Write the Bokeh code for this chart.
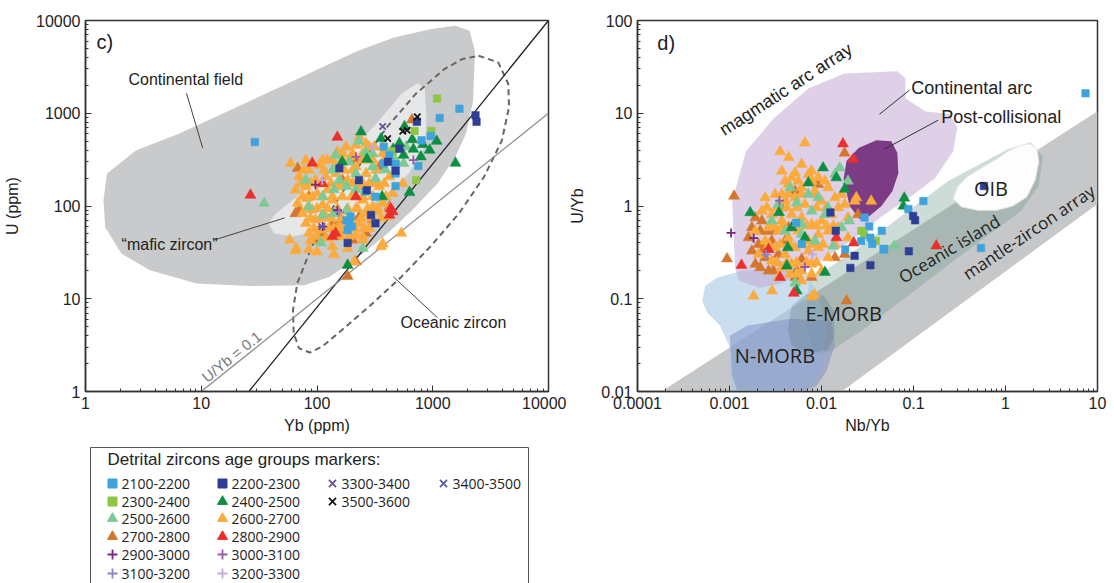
import math
from bokeh.plotting import figure
from bokeh.layouts import row, column
from bokeh.models import Range1d, FixedTicker, CustomJSTickFormatter
from bokeh.core.properties import value
from bokeh.embed import file_html
from bokeh.resources import INLINE

# ---------------------------------------------------------------------------
# Age groups: label, marker, colour
# ---------------------------------------------------------------------------
GROUPS = [
    ("2100-2200", "square", "#3fa2dc"),
    ("2200-2300", "square", "#2d3e94"),
    ("2300-2400", "square", "#8dc641"),
    ("2400-2500", "triangle", "#0d8f43"),
    ("2500-2600", "triangle", "#7dca96"),
    ("2600-2700", "triangle", "#fbab3d"),
    ("2700-2800", "triangle", "#d4772c"),
    ("2800-2900", "triangle", "#eb2f2c"),
    ("2900-3000", "cross", "#7a2682"),
    ("3000-3100", "cross", "#9b5aa8"),
    ("3100-3200", "cross", "#8d86c6"),
    ("3200-3300", "cross", "#c4abd8"),
    ("3300-3400", "x", "#6b4fa2"),
    ("3400-3500", "x", "#5d5ca8"),
    ("3500-3600", "x", "#111111"),
]

# ---------------------------------------------------------------------------
# Panel c) : Yb (ppm) vs U (ppm)
# ---------------------------------------------------------------------------
YB_2100_2200 = [29, 1700, 1148, 800, 960, 750, 477, 378, 423, 378, 262, 320, 477, 195, 190, 200, 180, 184, 477]
U_2100_2200 = [490, 1120, 890, 510, 570, 270, 224, 434, 353, 288, 143, 126, 164, 77, 65, 60, 70, 55, 283]

YB_2200_2300 = [2340, 2390, 730, 410, 477, 293, 320, 270, 184, 156, 230, 515]
U_2200_2300 = [950, 810, 810, 300, 240, 80, 65, 148, 40, 255, 190, 415]

YB_2300_2400 = [1090, 972, 697, 450, 720]
U_2300_2400 = [1440, 645, 645, 390, 190]

YB_2400_2500 = [240, 1570, 630, 184, 570, 665, 790, 1080, 940, 560, 165, 270, 358, 455, 365, 680, 823, 515]
U_2400_2500 = [630, 290, 140, 23, 720, 520, 340, 500, 400, 353, 300, 320, 534, 410, 126, 410, 460, 475]

YB_2500_2600 = [35, 145, 217, 262, 303, 180, 140, 80, 112, 249, 108, 477, 560, 320, 190, 230, 590, 390,
                156, 217, 137, 303, 112, 180, 140, 85]
U_2500_2600 = [107, 353, 224, 380, 265, 163, 150, 190, 80, 35, 40, 310, 288, 198, 300, 500, 434, 245,
               190, 150, 245, 366, 126, 90, 83, 98]

YB_2600_2700 = [70, 85, 104, 123, 150, 178, 217, 265, 313, 196,
                65, 80, 97, 119, 145, 172, 217, 265, 323, 394,
                68, 82, 100, 123, 150, 184, 224, 283, 345, 423,
                75, 91, 112, 136, 166, 203, 248, 303, 369, 451,
                80, 97, 119, 145, 178, 217, 265, 323, 408,
                85, 104, 127, 156, 190, 232, 283,
                88, 119, 161, 217,
                136, 184, 248,
                59, 80, 65, 100, 140, 535, 370, 358, 210, 85,
                58, 66, 283, 369, 232, 551,
                112, 136, 166, 248, 303,
                72, 88, 108, 132, 161, 203, 248, 313, 381,
                75, 91, 112, 136, 203, 248, 303, 394,
                82, 100, 123, 150, 184, 224, 274, 334, 423,
                88, 108, 132, 161, 196, 240, 293, 358,
                94, 115, 140, 172, 210, 257,
                100, 136, 190, 248,
                77, 115, 140, 203,
                166, 203, 248, 369]
U_2600_2700 = [207, 244, 276, 313, 384, 434, 453, 472, 434, 339,
               149, 162, 190, 207, 224, 244, 265, 224, 244, 339,
               107, 121, 137, 149, 162, 190, 162, 175, 162, 207,
               83, 91, 103, 116, 126, 131, 116, 98, 107, 137,
               65, 71, 77, 83, 87, 94, 83, 87, 77,
               51, 55, 57.5, 60, 65, 65, 57.5,
               43, 45, 47, 49,
               36.5, 35, 43,
               288, 310, 33, 32, 30, 51, 39, 36.5, 25, 34,
               43, 35, 434, 434, 556, 175,
               313, 313, 313, 313, 313,
               175, 175, 175, 175, 175, 175, 175, 175, 175,
               126, 126, 126, 126, 126, 126, 126, 126,
               94, 94, 94, 94, 94, 94, 94, 94, 94,
               74, 74, 74, 74, 74, 74, 74, 74,
               57.5, 57.5, 57.5, 57.5, 57.5, 57.5,
               47, 47, 47, 47,
               244, 244, 244, 244,
               368, 368, 368, 368]

YB_2700_2800 = [68, 660, 203, 145, 97, 70, 65, 161, 184, 217, 112, 178, 303, 136, 232, 85, 166, 217, 345, 423, 190, 265]
U_2700_2800 = [255, 850, 43, 47, 43, 91, 83, 71, 17.5, 25, 51, 55, 71, 65, 77, 126, 190, 313, 265, 98, 47, 51]

YB_2800_2900 = [26.6, 91, 150, 432, 423, 451, 145, 136, 217, 112]
U_2800_2900 = [131, 290, 552, 94, 80, 87, 51, 47, 126, 175]

YB_2900_3000 = [97, 112, 150]
U_2900_3000 = [170, 60, 90]
YB_3000_3100 = [680, 217]
U_3000_3100 = [313, 339]
YB_3100_3200 = [156]
U_3100_3200 = [86]
YB_3200_3300 = [111, 303]
U_3200_3300 = [190, 434]
YB_3300_3400 = [369]
U_3300_3400 = [720]
YB_3400_3500 = [110]
U_3400_3500 = [60]
YB_3500_3600 = [735, 551, 600, 408]
U_3500_3600 = [914, 640, 656, 534]

# Fields of panel c)
CONT_FIELD_YB = [1.53, 2.72, 6.4, 13.1, 26.7, 54.5, 111, 227, 464, 948, 1563, 2080, 2314, 2233, 1936,
                 1563, 1094, 663, 402, 227, 128, 78, 26.7, 9.1, 3.6, 2.04, 1.48, 1.43]
CONT_FIELD_U = [223, 397, 600, 906, 1368, 2067, 3124, 4720, 6560, 8070, 8770, 7740, 4720, 1368, 600,
                336, 174, 90, 50, 28, 17.2, 14, 13.7, 14.6, 20.3, 30.7, 59, 115]

MAFIC_YB = [38.1, 44, 78, 159, 325, 535, 738, 851, 883, 851, 618, 402, 227, 111, 62.9, 42.5]
MAFIC_U = [64.6, 82.7, 147, 310, 768, 1614, 2103, 1871, 906, 431, 223, 136, 82.7, 54.8, 47.2, 50.4]

OCEANIC_YB = [2485, 3680, 4495, 4560, 3955, 2767, 1679, 948, 535, 302, 171, 111, 86.7, 70, 62.9, 62,
              67.5, 89.9, 138, 227, 402, 712, 1261, 1803]
OCEANIC_U = [4170, 3535, 2067, 1161, 508, 205, 82.7, 36.2, 17.2, 8.9, 4.8, 3.05, 2.63, 2.92, 4.24, 7.55,
             14.6, 36.2, 97.5, 262, 707, 1614, 2999, 3838]

# Reference lines
STEEP_LINE_YB = [25.8, 10000]
STEEP_LINE_U = [1, 10000]
U_YB_RATIO = 0.1
RATIO_LINE_YB = [10, 10000]

# ---------------------------------------------------------------------------
# Panel d) : Nb/Yb vs U/Yb
# ---------------------------------------------------------------------------
NBYB_2100_2200 = [5.3e-3, 0.0181, 0.0294, 0.033, 0.034, 0.0452, 0.0472, 0.0356, 6.1e-3, 0.128, 0.0879, 0.048,
                  0.542, 7.41, 0.027]
UYB_2100_2200 = [0.66, 0.34, 0.75, 0.60, 0.456, 0.54, 0.34, 0.39, 0.39, 1.13, 0.93, 0.345, 0.353, 16.4, 0.42]

NBYB_2200_2300 = [0.0143, 0.0229, 0.0206, 0.034, 0.089, 0.099, 0.104, 0.583, 0.0125]
UYB_2200_2300 = [0.54, 0.29, 0.215, 0.23, 0.325, 0.78, 0.70, 1.64, 0.85]

NBYB_2300_2400 = [0.0271, 0.0389, 0.029]
UYB_2300_2400 = [0.54, 0.42, 0.49]

NBYB_2400_2500 = [1.68e-3, 0.0104, 0.0145, 7.19e-3, 4.3e-3, 0.0109, 4.2e-3, 5.38e-3, 3.45e-3, 6.61e-3,
                  0.0179, 4.74e-3, 0.0794, 0.0776]
UYB_2400_2500 = [0.85, 2.58, 2.02, 1.78, 0.356, 0.193, 0.226, 0.122, 0.85, 0.456, 1.52, 0.585, 1.22, 1.0]

NBYB_2500_2600 = [0.0158, 5.38e-3, 7.81e-3, 0.0109, 5.16e-3, 0.0134, 6.09e-3, 4.02e-3, 2.88e-3, 9.21e-3,
                  4.55e-3, 0.0165, 0.020, 7.19e-3, 0.0118, 0.0140, 6.09e-3, 0.0194, 3.40e-3, 8.48e-3, 0.0619]
UYB_2500_2600 = [2.58, 1.08, 0.884, 0.81, 0.148, 0.37, 0.635, 0.538, 0.69, 1.23,
                 1.58, 0.585, 0.69, 1.34, 0.96, 2.19, 0.495, 1.86, 1.04, 0.42, 0.372]

NBYB_2600_2700 = [3.70e-3, 5.16e-3, 7.19e-3, 9.21e-3, 4.37e-3, 6.09e-3, 8.48e-3, 0.0118, 3.13e-3, 4.02e-3,
                  5.16e-3, 6.61e-3, 0.0100, 0.0140, 0.0179, 2.25e-3, 2.88e-3, 3.70e-3, 4.74e-3, 6.09e-3,
                  7.81e-3, 0.0100, 0.0128, 2.66e-3, 3.40e-3, 4.37e-3, 5.60e-3, 7.19e-3, 9.21e-3, 0.0118,
                  0.0152, 0.0194, 0.0230, 2.44e-3, 3.13e-3, 4.02e-3, 5.16e-3, 7.19e-3, 9.21e-3, 0.0118,
                  2.88e-3, 3.70e-3, 4.74e-3, 6.09e-3, 7.81e-3, 0.0100, 3.40e-3, 6.09e-3, 2.07e-3, 1.91e-3,
                  2.44e-3, 0.0347, 0.0239, 0.0194, 6.6e-3, 3.55e-3, 4.4e-3, 1.83e-3, 2.9e-3, 7.8e-3,
                  8.4e-3, 6.09e-3, 7.81e-3, 4.74e-3,
                  4.02e-3, 5.60e-3, 7.81e-3, 0.0109,
                  2.55e-3, 3.27e-3, 4.2e-3, 5.38e-3, 8.84e-3, 0.0113, 0.0152,
                  3.0e-3, 3.85e-3, 4.95e-3, 6.9e-3, 8.84e-3, 0.0113, 0.0134,
                  2.66e-3, 3.55e-3, 4.55e-3, 6.09e-3, 8.14e-3, 0.0104, 0.0140,
                  3.27e-3, 4.2e-3, 5.38e-3, 6.9e-3, 8.84e-3,
                  4.55e-3, 5.38e-3, 7.81e-3,
                  3.70e-3, 4.37e-3, 6.09e-3, 8.48e-3, 0.0165]
UYB_2600_2700 = [2.38, 2.28, 2.19, 2.02, 1.71, 1.58, 1.45, 1.58, 1.34, 1.13,
                 1.23, 1.04, 1.13, 1.23, 1.04, 0.884, 0.81, 0.69, 0.81, 0.749,
                 0.635, 0.69, 0.81, 0.585, 0.538, 0.456, 0.538, 0.42, 0.495, 0.538,
                 0.585, 0.749, 1.13, 0.42, 0.356, 0.302, 0.356, 0.328, 0.356, 0.278,
                 0.256, 0.217, 0.236, 0.200, 0.236, 0.200, 0.170, 0.156, 0.302, 0.538,
                 1.23, 1.13, 1.23, 0.456, 4.8, 3.85, 3.35, 0.107, 0.122, 0.105,
                 0.11, 2.81, 2.38, 2.02,
                 1.86, 1.86, 1.86, 1.86,
                 0.96, 0.96, 0.96, 0.96, 0.96, 0.96, 0.96,
                 0.61, 0.61, 0.61, 0.61, 0.61, 0.61, 0.61,
                 0.387, 0.387, 0.387, 0.387, 0.387, 0.387, 0.387,
                 0.246, 0.246, 0.246, 0.246, 0.246,
                 0.185, 0.185, 0.185,
                 1.34, 1.34, 1.34, 1.34, 1.34]

NBYB_2700_2800 = [1.91e-3, 2.16e-3, 2.07e-3, 2.44e-3, 2.66e-3, 1.75e-3, 2.25e-3, 2.88e-3, 4.37e-3, 3.40e-3,
                  5.38e-3, 6.09e-3, 1.61e-3, 3.70e-3, 2.16e-3, 0.0140, 0.0249, 0.0179, 7.81e-3, 2.88e-3,
                  5.16e-3, 9.21e-3, 1.12e-3, 9.4e-4, 0.0178, 0.0187,
                  1.91e-3, 2.35e-3, 3.0e-3, 1.75e-3, 2.55e-3, 3.27e-3, 4.02e-3, 5.16e-3]
UYB_2700_2800 = [0.749, 0.538, 0.387, 0.278, 0.200, 0.328, 0.69, 0.42, 0.585, 0.302,
                 0.200, 0.267, 0.456, 0.96, 0.217, 0.278, 0.81, 0.302, 0.170, 0.538,
                 1.45, 1.71, 1.28, 0.27, 3.73, 0.095,
                 0.236, 0.342, 0.200, 0.585, 0.538, 0.246, 0.42, 0.17]

NBYB_2800_2900 = [1.35e-3, 3.55e-3, 2.66e-3, 5.0e-3, 0.0224, 0.0145, 0.0171, 0.0222, 0.177]
UYB_2800_2900 = [0.23, 0.17, 0.34, 0.115, 0.40, 0.456, 4.68, 3.2, 0.372]

NBYB_2900_3000 = [1.04e-3, 1.83e-3]
UYB_2900_3000 = [0.513, 0.45]
NBYB_3000_3100 = [6.6e-3, 3.5e-3]
UYB_3000_3100 = [0.22, 1.14]
NBYB_3100_3200 = [2.5e-3]
UYB_3100_3200 = [0.30]
NBYB_3200_3300 = [8.0e-3]
UYB_3200_3300 = [0.30]

# Fields of panel d)
MANTLE_NB = [1.82e-4, 10, 10, 0.01655]
MANTLE_U = [0.01, 10.5, 1.05, 0.01]

OCEAN_ISL_NB = [7.45e-3, 0.0100, 0.0272, 0.0738, 0.238, 1.06, 1.88, 2.54, 2.30, 1.47, 0.695, 0.256, 0.0738,
                0.0272, 0.0129, 8.24e-3, 6.92e-3, 6.92e-3]
OCEAN_ISL_U = [0.177, 0.191, 0.372, 0.780, 1.86, 4.10, 4.88, 3.45, 1.64, 0.883, 0.513, 0.244, 0.0951,
               0.0453, 0.0276, 0.0244, 0.0453, 0.0951]

OIB_NB = [0.270, 0.300, 0.380, 0.542, 0.80, 1.06, 1.45, 1.85, 2.20, 2.30, 2.10, 1.70, 1.20, 0.80, 0.50, 0.33]
OIB_U = [1.20, 1.60, 2.05, 2.56, 3.20, 3.90, 4.50, 4.70, 4.10, 3.00, 1.90, 1.25, 1.00, 0.90, 0.90, 0.98]

MORB_NB = [5.05e-4, 5.45e-4, 7.35e-4, 1.37e-3, 3.71e-3, 6.11e-3, 8.87e-3, 0.0114, 0.0100, 6.92e-3, 2.89e-3,
           1.07e-3, 1.01e-3, 9.9e-4, 7.9e-4, 5.73e-4]
MORB_U = [0.0951, 0.138, 0.168, 0.200, 0.221, 0.210, 0.122, 0.0453, 0.0168, 0.0108, 0.01,
          0.01, 0.0168, 0.0313, 0.0513, 0.0706]

NMORB_NB = [1.01e-3, 1.55e-3, 4.75e-3, 0.0129, 0.0139, 0.0114, 8.87e-3, 6.92e-3, 1.21e-3, 1.07e-3]
NMORB_U = [0.040, 0.0513, 0.061, 0.058, 0.0313, 0.0168, 0.0116, 0.0103, 0.0103, 0.0149]

EMORB_NB = [4.31e-3, 4.75e-3, 6.92e-3, 0.0106, 0.0136, 0.0139, 0.0114, 6.92e-3, 4.75e-3]
EMORB_U = [0.0453, 0.0841, 0.113, 0.108, 0.0743, 0.040, 0.0276, 0.0257, 0.0313]

ARC_NB = [1.15e-3, 1.07e-3, 1.51e-3, 3.04e-3, 7.26e-3, 0.0178, 0.0668, 0.0815, 0.0815, 0.134, 0.250, 0.298,
          0.270, 0.172, 0.102, 0.0427, 0.0212, 8.65e-3, 3.61e-3, 2.14e-3, 1.27e-3]
ARC_U = [0.215, 1.13, 3.90, 8.83, 18.6, 26.9, 28.3, 23.8, 14.5, 10.5, 9.76, 6.90,
         3.90, 2.00, 1.35, 0.743, 0.421, 0.238, 0.145, 0.131, 0.156]

POSTCOL_NB = [0.0174, 0.0187, 0.0253, 0.0395, 0.0575, 0.0668, 0.0684, 0.0590, 0.0449, 0.0333, 0.0259, 0.0202]
POSTCOL_U = [1.95, 3.05, 4.21, 5.13, 5.00, 3.72, 2.26, 1.45, 1.00, 0.780, 0.724, 1.00]

PANEL_C = {
    "2100-2200": (YB_2100_2200, U_2100_2200), "2200-2300": (YB_2200_2300, U_2200_2300),
    "2300-2400": (YB_2300_2400, U_2300_2400), "2400-2500": (YB_2400_2500, U_2400_2500),
    "2500-2600": (YB_2500_2600, U_2500_2600), "2600-2700": (YB_2600_2700, U_2600_2700),
    "2700-2800": (YB_2700_2800, U_2700_2800), "2800-2900": (YB_2800_2900, U_2800_2900),
    "2900-3000": (YB_2900_3000, U_2900_3000), "3000-3100": (YB_3000_3100, U_3000_3100),
    "3100-3200": (YB_3100_3200, U_3100_3200), "3200-3300": (YB_3200_3300, U_3200_3300),
    "3300-3400": (YB_3300_3400, U_3300_3400), "3400-3500": (YB_3400_3500, U_3400_3500),
    "3500-3600": (YB_3500_3600, U_3500_3600),
}
PANEL_D = {
    "2100-2200": (NBYB_2100_2200, UYB_2100_2200), "2200-2300": (NBYB_2200_2300, UYB_2200_2300),
    "2300-2400": (NBYB_2300_2400, UYB_2300_2400), "2400-2500": (NBYB_2400_2500, UYB_2400_2500),
    "2500-2600": (NBYB_2500_2600, UYB_2500_2600), "2600-2700": (NBYB_2600_2700, UYB_2600_2700),
    "2700-2800": (NBYB_2700_2800, UYB_2700_2800), "2800-2900": (NBYB_2800_2900, UYB_2800_2900),
    "2900-3000": (NBYB_2900_3000, UYB_2900_3000), "3000-3100": (NBYB_3000_3100, UYB_3000_3100),
    "3100-3200": (NBYB_3100_3200, UYB_3100_3200), "3200-3300": (NBYB_3200_3300, UYB_3200_3300),
}

DRAW_ORDER = ["2700-2800", "2600-2700", "2500-2600", "2400-2500", "2800-2900", "2300-2400",
              "2100-2200", "2200-2300", "2900-3000", "3000-3100", "3100-3200", "3200-3300",
              "3300-3400", "3400-3500", "3500-3600"]

STYLE = {name: (marker, color) for name, marker, color in GROUPS}
MARKER_SIZE = {"square": 7.5, "triangle": 11, "cross": 9, "x": 9}

SANS = "Liberation Sans"
HUMANIST = "Open Sans"
INK = "#222222"


def minor_ticks(decades):
    return [m * d for d in decades[:-1] for m in range(2, 10)]


def log_panel(width, height, x_rng, y_rng, borders, x_dec, y_dec, xlabel, ylabel):
    p = figure(width=width, height=height, x_axis_type="log", y_axis_type="log",
               x_range=Range1d(*x_rng), y_range=Range1d(*y_rng),
               output_backend="svg", toolbar_location=None,
               min_border_left=borders[0], min_border_right=borders[1],
               min_border_top=borders[2], min_border_bottom=borders[3])
    p.xaxis.ticker = FixedTicker(ticks=x_dec, minor_ticks=minor_ticks(x_dec))
    p.yaxis.ticker = FixedTicker(ticks=y_dec, minor_ticks=minor_ticks(y_dec))
    fmt = "return String(parseFloat(tick.toPrecision(6)));"
    p.xaxis.formatter = CustomJSTickFormatter(code=fmt)
    p.yaxis.formatter = CustomJSTickFormatter(code=fmt)
    p.xaxis.axis_label = xlabel
    p.yaxis.axis_label = ylabel
    for ax in (p.xaxis[0], p.yaxis[0]):
        ax.major_tick_in = 6
        ax.major_tick_out = 0
        ax.minor_tick_in = 3
        ax.minor_tick_out = 0
        ax.axis_line_color = "#333333"
        ax.axis_line_width = 1.5
        ax.major_tick_line_color = "#333333"
        ax.minor_tick_line_color = "#333333"
        ax.major_label_text_font = SANS
        ax.major_label_text_font_size = "16px"
        ax.major_label_text_color = INK
        ax.major_label_standoff = 5
        ax.axis_label_text_font = SANS
        ax.axis_label_text_font_size = "16px"
        ax.axis_label_text_font_style = "normal"
        ax.axis_label_text_color = INK
    p.xaxis.axis_label_standoff = 5
    p.yaxis.axis_label_standoff = 12
    p.xgrid.visible = False
    p.ygrid.visible = False
    p.outline_line_color = "#333333"
    p.outline_line_width = 1.5
    p.background_fill_color = "white"
    p.border_fill_color = "white"
    return p


def draw_points(p, data):
    for name in DRAW_ORDER:
        if name not in data:
            continue
        xs, ys = data[name]
        marker, color = STYLE[name]
        size = MARKER_SIZE[marker]
        if marker in ("cross", "x"):
            p.scatter(xs, ys, marker=marker, size=size, line_color=color, line_width=1.8, fill_color=None)
        else:
            p.scatter(xs, ys, marker=marker, size=size, fill_color=color, line_color=color, line_width=0.5)


def label(p, x, y, txt, size, font=SANS, align="left", angle=0.0, color=INK):
    p.text(x=[x], y=[y], text=[txt], text_font=value(font), text_font_size=size,
           text_align=align, text_baseline="middle", angle=math.radians(angle), text_color=color)


# ---------------------------------------------------------------------------
# Panel c)
# ---------------------------------------------------------------------------
pc = log_panel(566, 446, (1, 10000), (1, 10000), (85, 18, 20, 54),
               [1, 10, 100, 1000, 10000], [1, 10, 100, 1000, 10000], "Yb (ppm)", "U (ppm)")

pc.patch(CONT_FIELD_YB, CONT_FIELD_U, fill_color="#c9cacc", line_color=None)
pc.patch(MAFIC_YB, MAFIC_U, fill_color="#e6e7e8", line_color=None)
pc.line(OCEANIC_YB + OCEANIC_YB[:1], OCEANIC_U + OCEANIC_U[:1], line_color="#666666",
        line_width=2, line_dash="6 4")
pc.line(STEEP_LINE_YB, STEEP_LINE_U, line_color="#222222", line_width=1.3)
pc.line(RATIO_LINE_YB, [U_YB_RATIO * v for v in RATIO_LINE_YB], line_color="#8a8a8a", line_width=1.2)

# leader lines
pc.line([7.46, 10.3], [1641, 420], line_color="#444444", line_width=1)
pc.line([13.0, 52.4], [43.1, 74.3], line_color="#444444", line_width=1)
pc.line([458, 1099], [17.2, 6.25], line_color="#444444", line_width=1)

draw_points(pc, PANEL_C)

label(pc, 1.245, 5800, "c)", "20px")
label(pc, 2.35, 2320, "Continental field", "16px")
label(pc, 2.05, 38.1, "\u201cmafic zircon\u201d", "16px")
label(pc, 526, 5.52, "Oceanic zircon", "16px")
label(pc, 18.3, 2.38, "U/Yb = %g" % U_YB_RATIO, "15px", align="center", angle=38.8, color="#777777")

# ---------------------------------------------------------------------------
# Panel d)
# ---------------------------------------------------------------------------
pd_ = log_panel(548, 446, (1e-4, 10), (0.01, 100), (69, 17, 19, 55),
                [1e-4, 1e-3, 1e-2, 1e-1, 1, 10], [0.01, 0.1, 1, 10, 100], "Nb/Yb", "U/Yb")

pd_.patch(MANTLE_NB, MANTLE_U, fill_color="#c6c7c9", line_color=None)
pd_.patch(OCEAN_ISL_NB, OCEAN_ISL_U, fill_color="#6f9c8c", fill_alpha=0.35, line_color=None)
pd_.patch(OIB_NB, OIB_U, fill_color="#fdfdfd", line_color="#e4e6e5", line_width=1)
pd_.patch(MORB_NB, MORB_U, fill_color="#a6c8e6", fill_alpha=0.6, line_color=None)
pd_.patch(NMORB_NB, NMORB_U, fill_color="#7d8cc2", fill_alpha=0.5, line_color=None)
pd_.patch(EMORB_NB, EMORB_U, fill_color="#5e7a85", fill_alpha=0.3, line_color=None)
pd_.patch(ARC_NB, ARC_U, fill_color="#c3a9d1", fill_alpha=0.55, line_color=None)
pd_.patch(POSTCOL_NB, POSTCOL_U, fill_color="#7b3b85", line_color=None)

pd_.line([0.0427, 0.0902], [9.76, 17.7], line_color="#333333", line_width=1)
pd_.line([0.0483, 0.185], [4.10, 8.41], line_color="#333333", line_width=1)

draw_points(pd_, PANEL_D)

label(pd_, 1.64e-4, 56.6, "d)", "20px")
label(pd_, 4.10e-3, 18.1, "magmatic arc array", "18px", align="center", angle=33)
label(pd_, 0.0946, 18.6, "Continental arc", "18px")
label(pd_, 0.200, 9.06, "Post-collisional", "18px")
label(pd_, 0.695, 1.56, "OIB", "20px", font=HUMANIST, align="center")
label(pd_, 0.244, 0.345, "Oceanic island", "17px", font=HUMANIST, align="center", angle=31)
label(pd_, 1.79, 0.525, "mantle-zircon array", "17px", font=HUMANIST, align="center", angle=33.9)
label(pd_, 0.0174, 0.069, "E-MORB", "20px", font=HUMANIST, align="center")
label(pd_, 3.12e-3, 0.0244, "N-MORB", "20px", font=HUMANIST, align="center")

# ---------------------------------------------------------------------------
# Marker key below panel c)
# ---------------------------------------------------------------------------
KEY_COL_X = [112, 222, 332, 443]
KEY_ROW_Y = [483, 501, 518, 536, 554, 573]
KEY_SLOTS = {
    "2100-2200": (0, 0), "2300-2400": (0, 1), "2500-2600": (0, 2), "2700-2800": (0, 3),
    "2900-3000": (0, 4), "3100-3200": (0, 5),
    "2200-2300": (1, 0), "2400-2500": (1, 1), "2600-2700": (1, 2), "2800-2900": (1, 3),
    "3000-3100": (1, 4), "3200-3300": (1, 5),
    "3300-3400": (2, 0), "3500-3600": (2, 1),
    "3400-3500": (3, 0),
}
KEY_SIZE = {"square": 9, "triangle": 10, "cross": 10, "x": 10}

pk = figure(width=566, height=137, x_range=Range1d(0, 566), y_range=Range1d(583, 446),
            x_axis_type=None, y_axis_type=None, output_backend="svg", toolbar_location=None,
            min_border_left=0, min_border_right=0, min_border_top=0, min_border_bottom=0)
pk.xgrid.visible = False
pk.ygrid.visible = False
pk.outline_line_color = None
pk.quad(left=90, right=528, top=447, bottom=600, fill_color=None, line_color="#555555", line_width=1)
label(pk, 107, 459, "Detrital zircons age groups markers:", "17px")
for name, marker, color in GROUPS:
    c, r = KEY_SLOTS[name]
    x, y = KEY_COL_X[c], KEY_ROW_Y[r]
    if marker in ("cross", "x"):
        pk.scatter([x], [y], marker=marker, size=KEY_SIZE[marker], line_color=color, line_width=1.8,
                   fill_color=None)
    else:
        pk.scatter([x], [y], marker=marker, size=KEY_SIZE[marker], fill_color=color, line_color=color)
    label(pk, x + 9, y, name, "14px", font=HUMANIST)

layout = column(row(pc, pd_, spacing=0), pk, spacing=0)
open("out.html", "w").write(file_html(layout, INLINE))
